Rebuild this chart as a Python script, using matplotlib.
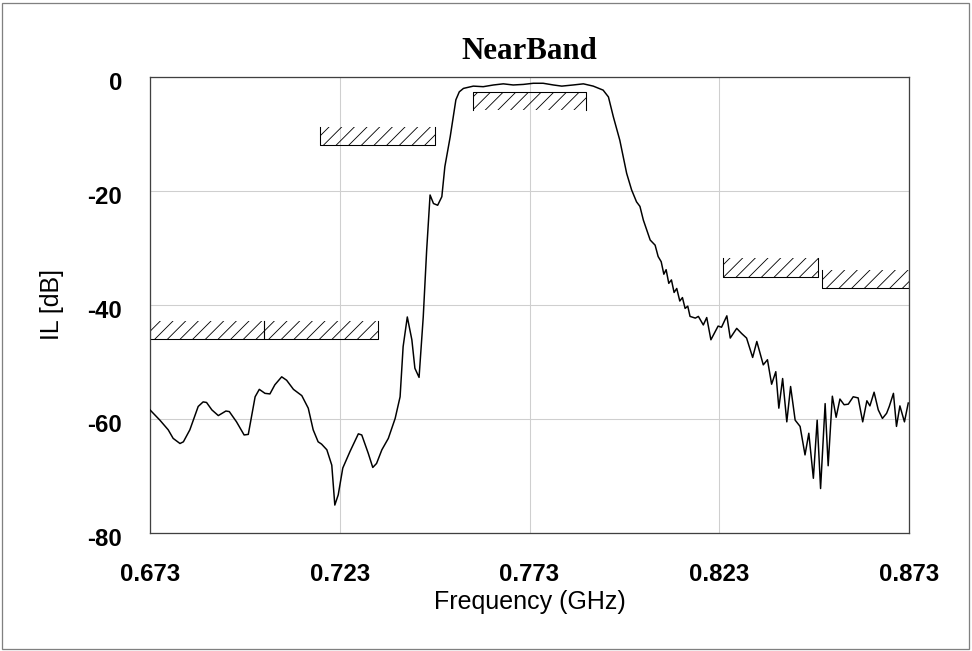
import matplotlib
matplotlib.use('Agg')
import matplotlib.pyplot as plt
import matplotlib.transforms as mtransforms
from matplotlib.patches import Rectangle

freq = [0.6730, 0.6756, 0.6778, 0.6791, 0.6809, 0.6818, 0.6835, 0.6857, 0.6870, 0.6879,
        0.6893, 0.6910, 0.6930, 0.6939, 0.6958, 0.6978, 0.6989, 0.7007, 0.7018, 0.7033,
        0.7046, 0.7059, 0.7077, 0.7090, 0.7108, 0.7130, 0.7147, 0.7160, 0.7173, 0.7182,
        0.7196, 0.7209, 0.7217, 0.7226, 0.7238, 0.7257, 0.7279, 0.7288, 0.7305, 0.7317,
        0.7327, 0.7341, 0.7358, 0.7376, 0.7389, 0.7397, 0.7408, 0.7420, 0.7428, 0.7439,
        0.7450, 0.7459, 0.7468, 0.7477, 0.7488, 0.7499, 0.7507, 0.7521, 0.7536, 0.7545,
        0.7556, 0.7582, 0.7608, 0.7635, 0.7661, 0.7687, 0.7714, 0.7740, 0.7766, 0.7793,
        0.7815, 0.7845, 0.7872, 0.7898, 0.7924, 0.7938, 0.7951, 0.7968, 0.7986, 0.7999,
        0.8012, 0.8021, 0.8030, 0.8048, 0.8061, 0.8069, 0.8077, 0.8084, 0.8090, 0.8097,
        0.8104, 0.8111, 0.8118, 0.8126, 0.8133, 0.8140, 0.8147,
        0.8153, 0.8167, 0.8175, 0.8188, 0.8197, 0.8208, 0.8227, 0.8236,
        0.8250, 0.8259, 0.8276, 0.8289, 0.8302, 0.8318, 0.8329, 0.8346, 0.8357, 0.8368,
        0.8379, 0.8387, 0.8397, 0.8408, 0.8418, 0.8430, 0.8443, 0.8456, 0.8466, 0.8478,
        0.8488, 0.8497, 0.8509, 0.8517, 0.8528, 0.8538, 0.8548, 0.8559, 0.8570, 0.8583,
        0.8596, 0.8608, 0.8619, 0.8627, 0.8638, 0.8649, 0.8660, 0.8671, 0.8678, 0.8689,
        0.8697, 0.8706, 0.8718, 0.8728]
il = [-58.4, -60.2, -61.9, -63.4, -64.3, -64.0, -61.9, -57.8, -57.0, -57.1,
      -58.4, -59.4, -58.6, -58.7, -60.5, -62.8, -62.7, -56.1, -54.8, -55.5,
      -55.6, -54.0, -52.6, -53.2, -54.8, -55.9, -58.1, -61.9, -64.0, -64.4,
      -65.4, -68.1, -75.1, -73.3, -68.6, -65.7, -62.6, -62.8, -66.0, -68.5,
      -67.8, -65.4, -63.4, -59.9, -56.1, -47.3, -42.1, -46.1, -51.1, -52.7,
      -42.1, -30.4, -20.7, -22.2, -22.5, -21.0, -15.7, -10.5, -4.0, -2.6,
      -2.0, -1.6, -1.7, -1.4, -1.2, -1.4, -1.3, -1.1, -1.1, -1.4,
      -1.6, -1.4, -1.2, -1.6, -2.3, -3.5, -7.0, -11.1, -16.9, -19.8,
      -21.9, -22.7, -25.1, -28.6, -29.5, -31.5, -32.4, -34.6, -33.8, -36.2,
      -35.6, -37.8, -37.1, -39.3, -38.7, -40.6, -40.2,
      -42.0, -42.3, -42.0, -43.5, -42.2, -46.1, -43.7, -43.9,
      -41.9, -45.8, -44.1, -45.0, -45.8, -49.2, -46.4, -50.5, -49.6, -53.9,
      -51.7, -58.1, -52.9, -60.5, -54.3, -60.2, -61.3, -66.3, -62.5, -70.4,
      -60.2, -72.2, -57.3, -68.2, -56.0, -59.7, -56.5, -57.5, -57.4, -56.1,
      -56.3, -60.5, -56.8, -57.7, -55.3, -58.4, -59.9, -59.0, -57.8, -55.5,
      -61.3, -57.7, -60.5, -57.2]

# spec mask segments: start, stop (GHz), limit (dB), side of hatch (+1 above, -1 below)
mask_start = [0.673, 0.703, 0.7178, 0.758, 0.824, 0.850]
mask_stop = [0.703, 0.733, 0.748, 0.788, 0.849, 0.873]
mask_level = [-46.0, -46.0, -12.0, -2.6, -35.0, -37.0]
mask_side = [1, 1, 1, -1, 1, 1]
hatch_depth = 3.2

xticks = [0.673, 0.723, 0.773, 0.823, 0.873]
yticks = [0, -20, -40, -60, -80]

plt.rcParams['hatch.linewidth'] = 0.8
dpi = 76.8
fig = plt.figure(figsize=(972/dpi, 651/dpi), dpi=dpi)
ax = fig.add_axes([150/972, 118/651, 759/972, 456/651])

ax.plot(freq, il, color='black', linewidth=1.4, zorder=3)

for s, e, lv, sd in zip(mask_start, mask_stop, mask_level, mask_side):
    ax.add_patch(Rectangle((s, lv), e-s, sd*hatch_depth, fill=False, hatch='//',
                           edgecolor='black', linewidth=0, zorder=2))
    ax.plot([s, s, e, e], [lv+sd*hatch_depth, lv, lv, lv+sd*hatch_depth],
            color='black', linewidth=1.0, zorder=2)

ax.set_xlim(0.673, 0.873)
ax.set_ylim(-80, 0)
ax.set_xticks(xticks)
ax.set_xticklabels(['%.3f' % x for x in xticks])
ax.set_yticks(yticks)
ax.set_yticklabels(['%d' % y for y in yticks])
ax.tick_params(axis='both', length=0, labelsize=22.5)
ax.tick_params(axis='x', pad=28)
ax.tick_params(axis='y', pad=26)
for lab in ax.get_xticklabels() + ax.get_yticklabels():
    lab.set_fontfamily('Liberation Sans')
    lab.set_fontweight('bold')
shift = mtransforms.ScaledTranslation(0, -4/dpi, fig.dpi_scale_trans)
for lab in ax.get_yticklabels():
    lab.set_transform(lab.get_transform() + shift)
ax.grid(True, color='#cfcfcf', linewidth=1.0)
ax.set_axisbelow(True)
for sp in ax.spines.values():
    sp.set_color('#404040')
    sp.set_linewidth(1.2)

ax.set_xlabel('Frequency (GHz)', fontfamily='Liberation Sans', fontsize=23.5, labelpad=4)
ax.set_ylabel('IL [dB]', fontfamily='Liberation Sans', fontsize=23.5, labelpad=22)
ax.set_title('NearBand', fontfamily='Liberation Serif', fontweight='bold', fontsize=29, pad=17)

fig.patches.append(Rectangle((0.002, 0.003), 0.995, 0.993, transform=fig.transFigure,
                             fill=False, edgecolor='#808080', linewidth=1.2))

plt.savefig('out.png', dpi=dpi)
plt.close()
